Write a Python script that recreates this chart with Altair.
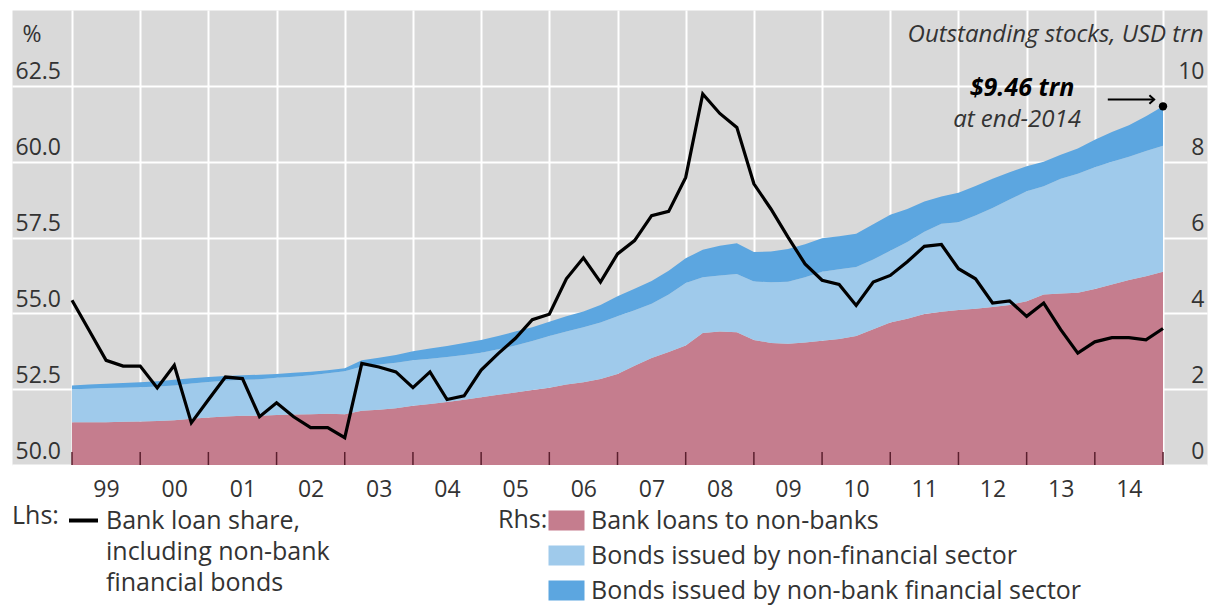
import altair as alt
import pandas as pd

# quarter-end positions (in years): end-1998 ... end-2014
quarters = [1999 + q / 4 for q in range(65)]

# Lhs: bank loan share, including non-bank financial bonds (%)
bank_loan_share = [
    55.43, 54.44, 53.45, 53.26, 53.26, 52.54, 53.29, 51.39, 52.15, 52.90,
    52.85, 51.59, 52.05, 51.59, 51.23, 51.23, 50.90, 53.35, 53.23, 53.07,
    52.55, 53.07, 52.16, 52.28, 53.13, 53.67, 54.17, 54.79, 54.97, 56.14,
    56.83, 56.03, 56.96, 57.40, 58.22, 58.36, 59.48, 62.23, 61.59, 61.13,
    59.27, 58.44, 57.51, 56.63, 56.09, 55.95, 55.26, 56.03, 56.25, 56.70,
    57.21, 57.27, 56.47, 56.14, 55.34, 55.41, 54.90, 55.34, 54.46, 53.69,
    54.06, 54.20, 54.20, 54.13, 54.50,
]

# Rhs: outstanding stocks, USD trn
bank_loans = [
    1.13, 1.13, 1.13, 1.14, 1.15, 1.16, 1.18, 1.22, 1.25, 1.28,
    1.30, 1.30, 1.32, 1.33, 1.34, 1.35, 1.34, 1.43, 1.46, 1.50,
    1.56, 1.61, 1.66, 1.72, 1.79, 1.85, 1.91, 1.98, 2.04, 2.12,
    2.18, 2.27, 2.40, 2.62, 2.82, 2.98, 3.15, 3.48, 3.52, 3.50,
    3.30, 3.22, 3.20, 3.23, 3.28, 3.32, 3.40, 3.58, 3.76, 3.86,
    3.98, 4.04, 4.09, 4.12, 4.17, 4.22, 4.32, 4.50, 4.52, 4.54,
    4.64, 4.76, 4.88, 4.98, 5.10,
]
nonfin_bonds = [
    0.87, 0.88, 0.90, 0.90, 0.90, 0.91, 0.92, 0.93, 0.94, 0.94,
    0.95, 0.96, 0.98, 1.00, 1.03, 1.07, 1.13, 1.17, 1.19, 1.20,
    1.20, 1.19, 1.19, 1.18, 1.17, 1.20, 1.24, 1.29, 1.36, 1.40,
    1.45, 1.49, 1.52, 1.46, 1.43, 1.52, 1.65, 1.47, 1.48, 1.54,
    1.54, 1.60, 1.63, 1.72, 1.82, 1.84, 1.82, 1.84, 1.89, 2.02,
    2.17, 2.32, 2.31, 2.46, 2.61, 2.78, 2.90, 2.85, 3.03, 3.14,
    3.21, 3.24, 3.25, 3.30, 3.32,
]
nonbank_fin_bonds = [
    0.10, 0.11, 0.11, 0.12, 0.13, 0.14, 0.15, 0.14, 0.13, 0.13,
    0.12, 0.12, 0.10, 0.10, 0.09, 0.08, 0.08, 0.16, 0.18, 0.20,
    0.24, 0.27, 0.29, 0.32, 0.34, 0.35, 0.37, 0.36, 0.38, 0.40,
    0.42, 0.46, 0.53, 0.57, 0.60, 0.62, 0.65, 0.73, 0.78, 0.81,
    0.78, 0.81, 0.87, 0.87, 0.88, 0.87, 0.88, 0.93, 0.95, 0.87,
    0.80, 0.72, 0.78, 0.78, 0.77, 0.72, 0.66, 0.65, 0.63, 0.67,
    0.73, 0.78, 0.83, 0.92, 1.04,
]

series_names = [
    "Bank loans to non-banks",
    "Bonds issued by non-financial sector",
    "Bonds issued by non-bank financial sector",
]
series_colors = ["#c57d8e", "#9fcaeb", "#5ca6e0"]

year_ticks = list(range(1999, 2016))
end_value = 9.46
end_year = 2015

left_ticks = [50.0, 52.5, 55.0, 57.5, 60.0, 62.5]
right_ticks = [0, 2, 4, 6, 8, 10]

FONT = "Open Sans"
TXT = "#333333"
W, H = 1195, 455
LEG = 25

rows = []
for i, t in enumerate(quarters):
    for k, (name, vals) in enumerate(zip(series_names, [bank_loans, nonfin_bonds, nonbank_fin_bonds])):
        rows.append({"t": t, "series": name, "order": k, "value": vals[i]})
area_df = pd.DataFrame(rows)
line_df = pd.DataFrame({"t": quarters, "share": bank_loan_share,
                        "name": ["Bank loan share"] * len(quarters)})
tick_df = pd.DataFrame({"t": year_ticks})
end_df = pd.DataFrame({"t": [end_year], "v": [end_value]})
arrow_df = pd.DataFrame({"t": [2014.19], "t2": [2014.87], "v": [9.64]})

xscale = alt.Scale(domain=[1998.12, 2015.645], nice=False, zero=False)
yR = alt.Scale(domain=[0, 12], nice=False)
yL = alt.Scale(domain=[50, 65], nice=False, zero=False)

x_axis = alt.Axis(
    values=year_ticks,
    labelExpr="datum.value >= 2015 ? '' : substring(toString(datum.value), 2, 4)",
    labelOffset=34, ticks=False, tickSize=0, labelPadding=13, domain=False,
    grid=True, gridColor="white", gridWidth=2, labelFontSize=23, labelColor=TXT,
    labelOverlap=False, labelFlush=False, labelBound=False, title=None,
)

right_axis = alt.Axis(
    orient="right", values=right_ticks, grid=False, domain=False, ticks=False, tickSize=0,
    labelAlign="right", labelPadding=-3, labelBaseline="alphabetic", labelOffset=-7,
    labelFontSize=23, labelColor=TXT,
    title="Outstanding stocks, USD trn", titleAngle=0, titleAlign="right",
    titleBaseline="alphabetic", titleX=-4, titleY=31, titleFontStyle="italic",
    titleFontWeight="normal", titleFontSize=24, titleColor=TXT,
)
left_axis = alt.Axis(
    orient="left", values=left_ticks, format=".1f", grid=True, gridColor="white", gridWidth=2,
    domain=False, ticks=False, tickSize=0,
    labelAlign="left", labelPadding=-3, labelBaseline="alphabetic", labelOffset=-7,
    labelFontSize=23, labelColor=TXT,
    title="%", titleAngle=0, titleAlign="left", titleBaseline="alphabetic",
    titleX=10, titleY=31, titleFontWeight="normal", titleFontSize=23, titleColor=TXT,
)

area = alt.Chart(area_df).mark_area(interpolate="linear").encode(
    x=alt.X("t:Q", scale=xscale, axis=x_axis),
    y=alt.Y("value:Q", stack="zero", scale=yR, axis=right_axis),
    fill=alt.Fill(
        "series:N",
        scale=alt.Scale(domain=series_names, range=series_colors),
        legend=alt.Legend(
            title="Rhs:", orient="none", legendX=486, legendY=498, titleOrient="left",
            titleAnchor="start", titleBaseline="top",
            titleFontSize=LEG, titleFontWeight="normal", titleColor=TXT,
            titlePadding=6, labelFontSize=LEG, labelColor=TXT, labelLimit=900,
            symbolType="M-1.8,-1H1.8V1H-1.8Z", symbolSize=400, symbolStrokeWidth=0,
            rowPadding=9, labelOffset=12,
        ),
    ),
    order=alt.Order("order:Q"),
)

ticks = alt.Chart(tick_df).mark_rule(color="#5b1f2e", strokeWidth=1.5).encode(
    x=alt.X("t:Q", scale=xscale),
    y=alt.value(H - 13), y2=alt.value(H),
)

dot = alt.Chart(end_df).mark_point(filled=True, color="black", size=70, opacity=1).encode(
    x=alt.X("t:Q", scale=xscale), y=alt.Y("v:Q", scale=yR),
)
arrow_shaft = alt.Chart(arrow_df).mark_rule(color="black", strokeWidth=2).encode(
    x=alt.X("t:Q", scale=xscale), x2="t2:Q", y=alt.Y("v:Q", scale=yR),
)
arrow_head = alt.Chart(arrow_df).mark_point(
    shape="M-1,-0.9L0,0L-1,0.9", filled=False, color="black", strokeWidth=2, size=90, opacity=1
).encode(x=alt.X("t2:Q", scale=xscale), y=alt.Y("v:Q", scale=yR))
label1 = alt.Chart(end_df).mark_text(
    text="$9.46 trn", font=FONT, fontSize=25, fontWeight="bold", fontStyle="italic",
    color="black", align="center", baseline="alphabetic", dx=-141, dy=-10,
).encode(x=alt.X("t:Q", scale=xscale), y=alt.Y("v:Q", scale=yR))
label2 = alt.Chart(end_df).mark_text(
    text="at end-2014", font=FONT, fontSize=24, fontStyle="italic",
    color=TXT, align="center", baseline="alphabetic", dx=-146, dy=21,
).encode(x=alt.X("t:Q", scale=xscale), y=alt.Y("v:Q", scale=yR))

right_group = alt.layer(area, ticks, dot, arrow_shaft, arrow_head, label1, label2)

line = alt.Chart(line_df).mark_line(strokeWidth=3.2, interpolate="linear").encode(
    x=alt.X("t:Q", scale=xscale),
    y=alt.Y("share:Q", scale=yL, axis=left_axis),
    stroke=alt.Stroke(
        "name:N",
        scale=alt.Scale(domain=["Bank loan share"], range=["black"]),
        legend=alt.Legend(
            title="Lhs:", orient="none", legendX=0, legendY=494, titleOrient="left",
            titleAnchor="start", titleBaseline="top",
            titleFontSize=LEG, titleFontWeight="normal", titleColor=TXT,
            titlePadding=8, labelFontSize=LEG, labelColor=TXT, labelLimit=900,
            labelExpr="['Bank loan share,', 'including non-bank', 'financial bonds']",
            symbolType="stroke", symbolSize=841, symbolStrokeWidth=4, labelOffset=6,
        ),
    ),
)

chart = alt.layer(right_group, line).resolve_scale(y="independent").properties(
    width=W, height=H,
    padding={"left": 12, "top": 10, "right": 12, "bottom": 2},
).configure(
    font=FONT, style={"guide-label": {"lineHeight": 31}}
).configure_view(fill="#d9d9d9", stroke="transparent")

chart.save("out.html", embed_options={"renderer": "svg", "actions": False})
